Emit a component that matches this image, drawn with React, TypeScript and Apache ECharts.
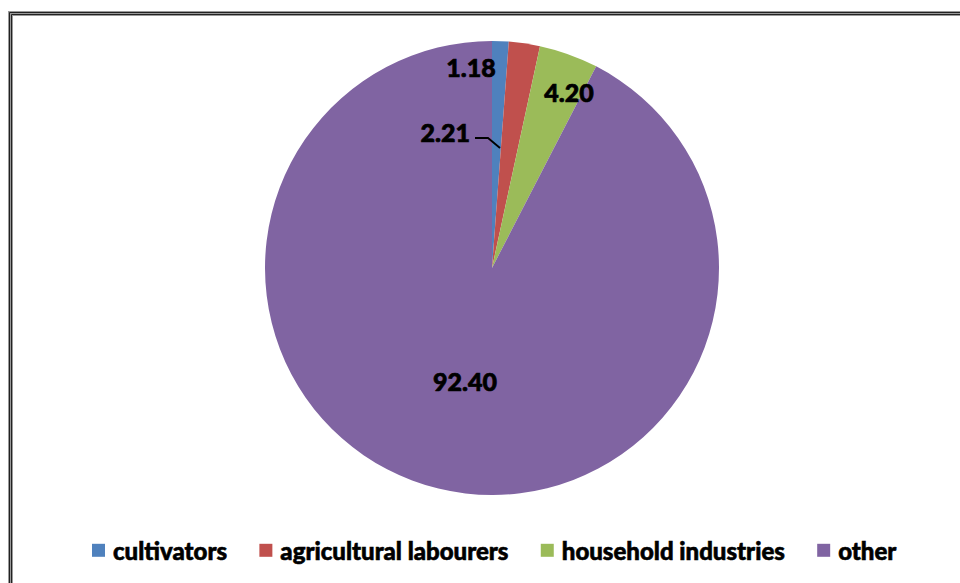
import React, { useEffect, useRef } from "react";
import * as echarts from "echarts";

const categories = ["cultivators", "agricultural labourers", "household industries", "other"];
const values = [1.18, 2.21, 4.2, 92.4];
const colors = ["#4F81BD", "#C0504D", "#9BBB59", "#8064A2"];

const W = 960;
const H = 583;
const CX = 492;
const CY = 268;
const R = 227;
const FONT = "Lato, 'Open Sans', sans-serif";

// label anchor offsets relative to pie centre (layout only)
const labelOffsets: Array<{ dx: number; dy: number; align: string }> = [
  { dx: -21, dy: -201, align: "center" },
  { dx: -22, dy: -136, align: "right" },
  { dx: 77, dy: -176, align: "center" },
  { dx: -27, dy: 113, align: "center" },
];
const LEADER_INDEX = 1;

const labelText = {
  fontFamily: FONT,
  fontWeight: 900,
  fontSize: 25,
  color: "#000",
  textBorderColor: "#000",
  textBorderWidth: 0.7,
};

const layoutFn = (withLine: boolean) => (p: any) => {
  const o = labelOffsets[p.dataIndex];
  const res: any = {
    x: CX + o.dx,
    y: CY + o.dy,
    align: o.align,
    verticalAlign: "middle",
  };
  if (withLine) {
    res.labelLinePoints = [
      [CX + 8, CY - 120],
      [CX - 4, CY - 130],
      [CX - 17, CY - 130],
    ];
  }
  return res;
};

export default function App() {
  const ref = useRef<HTMLDivElement>(null);
  useEffect(() => {
    document.body.style.margin = "0";
    const chart = echarts.init(ref.current!, null, { renderer: "svg" });
    chart.setOption({
      animation: false,
      backgroundColor: "#ffffff",
      color: colors,
      legend: {
        left: 87,
        top: 533,
        icon: "rect",
        itemWidth: 13,
        itemHeight: 13,
        itemGap: 32,
        data: categories,
        textStyle: {
          fontFamily: FONT,
          fontWeight: 900,
          fontSize: 24,
          color: "#000",
          textBorderColor: "#000",
          textBorderWidth: 0.6,
          padding: [0, 0, 0, 3],
        },
      },
      graphic: [
        {
          type: "rect",
          shape: { x: 10.5, y: 13.5, width: 1000, height: 1000 },
          style: { fill: "none", stroke: "#9a9a9a", lineWidth: 5 },
          silent: true,
        },
        {
          type: "rect",
          shape: { x: 9.5, y: 12.5, width: 1000, height: 1000 },
          style: { fill: "none", stroke: "#222", lineWidth: 1 },
          silent: true,
        },
        {
          type: "rect",
          shape: { x: 11.5, y: 14.5, width: 1000, height: 1000 },
          style: { fill: "none", stroke: "#222", lineWidth: 1 },
          silent: true,
        },
      ],
      series: [
        {
          type: "pie",
          z: 2,
          center: [CX, CY],
          radius: R,
          startAngle: 90,
          clockwise: true,
          avoidLabelOverlap: false,
          data: categories.map((name, i) => ({
            name,
            value: values[i],
            label: { show: i !== LEADER_INDEX },
          })),
          label: {
            show: true,
            position: "outside",
            formatter: (p: any) => values[p.dataIndex].toFixed(2),
            ...labelText,
          },
          labelLine: { show: false },
          labelLayout: layoutFn(false),
        },
        {
          // overlay copy so the leader line is drawn above the slices
          type: "pie",
          z: 3,
          silent: true,
          legendHoverLink: false,
          center: [CX, CY],
          radius: R,
          startAngle: 90,
          clockwise: true,
          avoidLabelOverlap: false,
          itemStyle: { color: "rgba(0,0,0,0)" },
          data: categories.map((name, i) => ({
            name,
            value: values[i],
            label: { show: i === LEADER_INDEX },
            labelLine: { show: i === LEADER_INDEX },
          })),
          label: {
            show: true,
            position: "outside",
            formatter: (p: any) => values[p.dataIndex].toFixed(2),
            ...labelText,
          },
          labelLine: {
            lineStyle: { color: "#000", width: 1.8, opacity: 1 },
          },
          labelLayout: layoutFn(true),
        },
      ],
    });
    return () => chart.dispose();
  }, []);
  return (
    <div
      ref={ref}
      style={{ position: "fixed", left: 0, top: 0, width: W, height: H }}
    />
  );
}
